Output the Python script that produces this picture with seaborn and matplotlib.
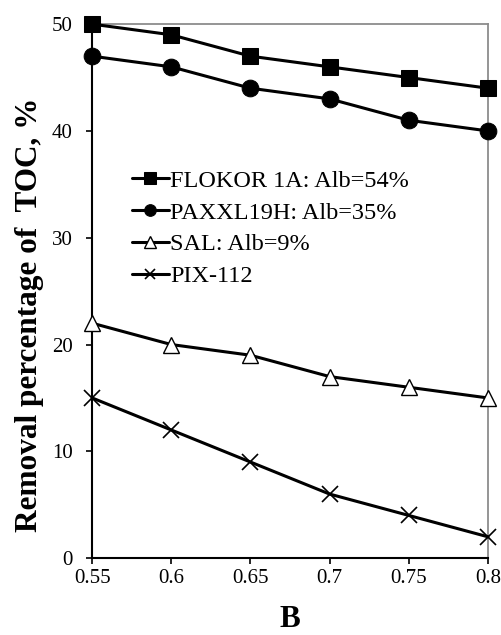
import pandas as pd
import matplotlib.pyplot as plt
import seaborn as sns

# ----------------------------
# Data
# ----------------------------

b_values = [0.55, 0.6, 0.65, 0.7, 0.75, 0.8]
flokor = [50, 49, 47, 46, 45, 44]
paxxl = [47, 46, 44, 43, 41, 40]
sal = [22, 20, 19, 17, 16, 15]
pix = [15, 12, 9, 6, 4, 2]

labels = ["FLOKOR 1A: Alb=54%", "PAXXL19H: Alb=35%", "SAL: Alb=9%", "PIX-112"]
x_ticks = [0.55, 0.6, 0.65, 0.7, 0.75, 0.8]
x_tick_labels = ["0.55", "0.6", "0.65", "0.7", "0.75", "0.8"]
y_ticks = [0, 10, 20, 30, 40, 50]

# ----------------------------
# Style
# ----------------------------

sns.set_style("ticks")
plt.rcParams["font.family"] = ["Liberation Serif", "DejaVu Serif"]
plt.rcParams["text.color"] = "black"
plt.rcParams["axes.labelcolor"] = "black"
plt.rcParams["xtick.color"] = "black"
plt.rcParams["ytick.color"] = "black"

fig, ax = plt.subplots(figsize=(5.01, 6.35), dpi=100)

styles = [
    dict(marker="s", markersize=12, markerfacecolor="black", markeredgecolor="black"),
    dict(marker="o", markersize=12, markerfacecolor="black", markeredgecolor="black"),
    dict(marker="^", markersize=12, markerfacecolor="white", markeredgecolor="black", markeredgewidth=1),
    dict(marker="x", markersize=11, markeredgecolor="black", markeredgewidth=1.2),
]

for vals, lab, st in zip([flokor, paxxl, sal, pix], labels, styles):
    df = pd.DataFrame({"B": b_values, "val": vals})
    sns.lineplot(data=df, x="B", y="val", ax=ax, color="black", linewidth=2.2,
                 label=lab, clip_on=False, zorder=3, **st)

ax.set_xlim(0.55, 0.8)
ax.set_ylim(0, 50)
ax.set_xticks(x_ticks)
ax.set_xticklabels(x_tick_labels)
ax.set_yticks(y_ticks)
ax.tick_params(labelsize=15, direction="out", length=4, width=1.2)
ax.tick_params(axis="x", pad=3.6)
ax.tick_params(axis="y", pad=10)

for s in ["top", "right"]:
    ax.spines[s].set_color("#8c8c8c")
    ax.spines[s].set_linewidth(1.3)
for s in ["left", "bottom"]:
    ax.spines[s].set_color("black")
    ax.spines[s].set_linewidth(1.5)

ax.set_xlabel("B", fontsize=22.5, fontweight="bold")
ax.set_ylabel("Removal percentage of  TOC, %", fontsize=22.5, fontweight="bold")
ax.xaxis.set_label_coords(0.5, -0.088)
ax.yaxis.set_label_coords(-0.121, 0.455)

leg = ax.legend(loc="upper left", bbox_to_anchor=(0.101, 0.727), frameon=False,
                fontsize=17.5, handlelength=1.5, handletextpad=0.06, labelspacing=0.4,
                borderaxespad=0, borderpad=0, markerscale=0.7)

plt.subplots_adjust(left=0.184, right=0.974, top=0.962, bottom=0.121)
plt.savefig("out.png", dpi=100)
plt.close()
